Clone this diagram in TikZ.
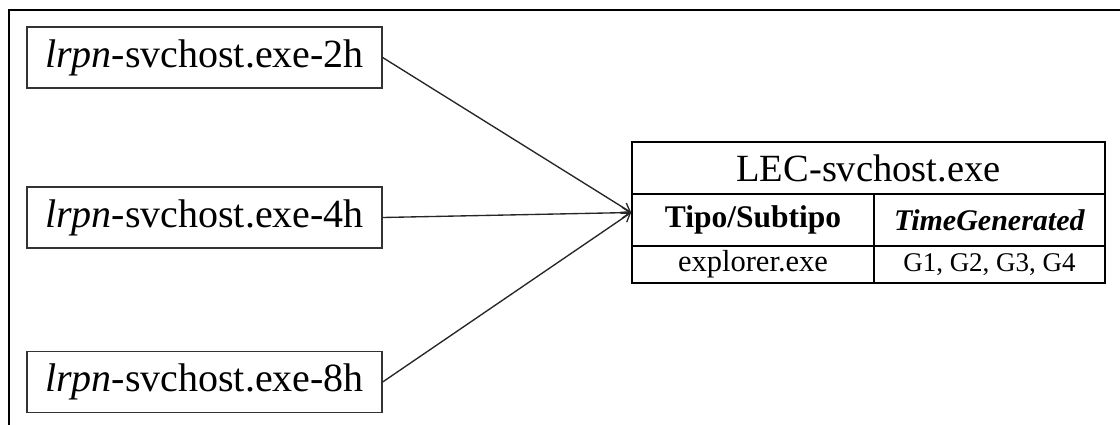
\documentclass[tikz,border=0pt]{standalone}
\usepackage{fontspec}
\setmainfont{Liberation Serif}
\usetikzlibrary{arrows.meta}
\tikzset{
  srcbox/.style={draw=black!80, line width=1.3pt, inner sep=0pt,
    minimum width=355pt, minimum height=61pt,
    font=\fontsize{40}{44}\selectfont},
  tabframe/.style={draw=black, line width=1.7pt, inner sep=0pt},
  cell/.style={draw=black, line width=1.7pt, inner sep=0pt},
  titlefont/.style={font=\fontsize{38.5}{42}\selectfont},
  headfont/.style={font=\fontsize{30}{34}\selectfont\bfseries},
  datafont/.style={font=\fontsize{28}{31}\selectfont},
  link/.style={draw=black!85, line width=1.35pt,
    -{Straight Barb[length=8pt,width=11pt,line width=1.3pt]}},
  frameline/.style={draw=black, line width=1.8pt}
}
\begin{document}
\begin{tikzpicture}[x=1pt,y=-1pt]
  \useasboundingbox (0,0) rectangle (1120,425);
  % partial outer frame (top and left edges)
  \draw[frameline] (9,425) -- (9,10) -- (1120,10);

  % source boxes
  \node[srcbox] (src2) at (204.5,57.5) {\textit{lrpn}-svchost.exe-2h};
  \node[srcbox] (src4) at (204.5,217.5) {\textit{lrpn}-svchost.exe-4h};
  \node[srcbox] (src8) at (204.5,382) {\textit{lrpn}-svchost.exe-8h};

  % target table
  \node[tabframe, minimum width=473pt, minimum height=141pt] (lec) at (868.5,212.5) {};
  \node[cell, titlefont, minimum width=473pt, minimum height=52pt] (title) at (868.5,168) {LEC-svchost.exe};
  \node[cell, headfont, minimum width=242pt, minimum height=52pt] (h1) at (753,220) {\fontsize{31.5}{34}\selectfont Tipo/Subtipo};
  \node[cell, headfont, minimum width=231pt, minimum height=52pt] (h2) at (989.5,220) {\textit{TimeGenerated}};
  \node[cell, datafont, minimum width=242pt, minimum height=37pt] (d1) at (753,264.5) {\fontsize{30.5}{33}\selectfont explorer.exe};
  \node[cell, datafont, minimum width=231pt, minimum height=37pt] (d2) at (989.5,264.5) {\fontsize{27}{30}\selectfont G1, G2, G3, G4};

  % connectors
  \draw[link] (src2.east) -- (lec.west);
  \draw[link] (src4.east) -- (lec.west);
  \draw[link] (src8.east) -- (lec.west);
\end{tikzpicture}
\end{document}
